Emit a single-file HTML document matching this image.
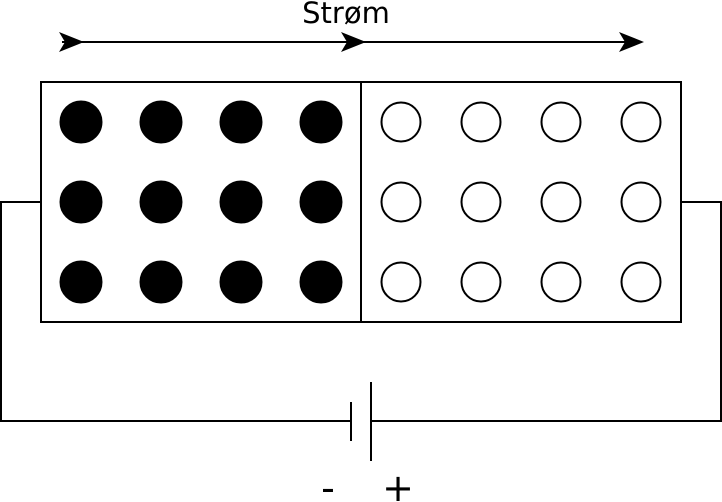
<!DOCTYPE html>
<html><head><meta charset="utf-8"><style>
html,body{margin:0;padding:0;background:#fff;}
svg{display:block;}
text{font-family:"DejaVu Sans","Liberation Sans",sans-serif;}
</style></head><body>
<svg width="722" height="502" viewBox="0 0 722 502" xmlns="http://www.w3.org/2000/svg">
  <text x="346" y="23" font-size="29" text-anchor="middle">Strøm</text>
  <g>
    <line x1="62" y1="42" x2="640" y2="42" stroke="#000" stroke-width="2"/>
    <path d="M59,32 L84,42 L59,52 L65,42 Z" fill="#000"/>
    <path d="M341,32 L366,42 L341,52 L347,42 Z" fill="#000"/>
    <path d="M619,32 L644,42 L619,52 L625,42 Z" fill="#000"/>
  </g>
  <g fill="none" stroke="#000" stroke-width="2">
    <rect x="41" y="82" width="640" height="240"/>
    <line x1="361" y1="82" x2="361" y2="322"/>
    <polyline points="41,202 1,202 1,421 351,421"/>
    <polyline points="371,421 721,421 721,202 681,202"/>
    <line x1="351" y1="402" x2="351" y2="441"/>
    <line x1="371" y1="382" x2="371" y2="461"/>
  </g>
  <g id="dots"></g>
  <text x="328" y="501" font-size="38" text-anchor="middle">-</text>
  <text x="398" y="501" font-size="38" text-anchor="middle">+</text>
</svg>
<script>
const filledX=[81,161,241,321], openX=[401,481,561,641], rowsY=[122,202,282];
const g=document.getElementById('dots');
rowsY.forEach(y=>{
  filledX.concat(openX).forEach((x,i)=>{
    const c=document.createElementNS('http://www.w3.org/2000/svg','circle');
    c.setAttribute('cx',x);c.setAttribute('cy',y);c.setAttribute('r',i<4?20.5:19.5);
    c.setAttribute('fill',i<4?'#000':'#fff');c.setAttribute('stroke','#000');c.setAttribute('stroke-width','2');
    
    
    g.appendChild(c);
  });
});
</script>
</body></html>
